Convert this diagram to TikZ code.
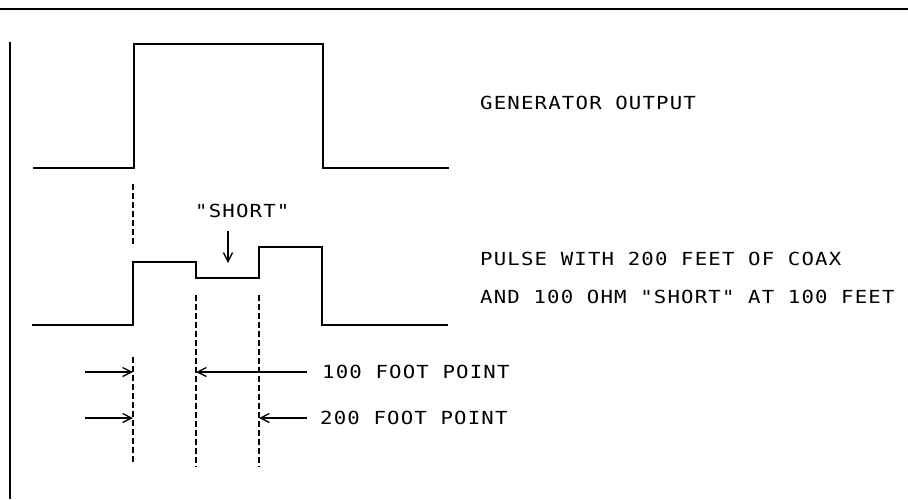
\documentclass[tikz,border=0pt]{standalone}
\usepackage{fontspec}
\newfontfamily\plotfont[FakeStretch=1.15,LetterSpace=6.5]{DejaVu Sans Mono}
\usetikzlibrary{arrows.meta}
\begin{document}
\begin{tikzpicture}[x=1pt,y=-1pt,
  wave/.style={line width=1.8pt, line join=miter},
  guide/.style={line width=1.1pt, dash pattern=on 6pt off 3pt},
  pointer/.style={line width=1.3pt, -{Straight Barb[length=9pt,width=9pt,line width=1.3pt]}},
  lbl/.style={font=\plotfont\fontsize{18}{20}\selectfont, inner sep=0pt, anchor=west}]
\useasboundingbox (0,0) rectangle (908,499);
% frame
\draw[line width=2.5pt] (0,9) -- (908,9);
\draw[line width=2pt] (10,42) -- (10,499);
% generator output
\draw[wave] (33,168) -- (134,168) -- (134,44) -- (323,44) -- (323,168) -- (449,168);
% pulse with coax
\draw[wave] (32,325) -- (133,325) -- (133,262) -- (196,262) -- (196,278) -- (259,278)
  -- (259,247) -- (322,247) -- (322,325) -- (448,325);
% guides
\draw[guide] (133,184) -- (133,247);
\draw[guide] (133,357) -- (133,462);
\draw[guide] (196,295) -- (196,467);
\draw[guide] (259,295) -- (259,467);
% labels
\node[lbl] (gen) at (480,103) {GENERATOR OUTPUT};
\node[lbl] (pulseA) at (480,259) {PULSE WITH 200 FEET OF COAX};
\node[lbl] (pulseB) at (480,297) {AND 100 OHM "SHORT" AT 100 FEET};
\node[lbl] (short) at (195,211) {"SHORT"};
\node[lbl] (p100) at (322,372) {100 FOOT POINT};
\node[lbl] (p200) at (320,418) {200 FOOT POINT};
% pointers
\coordinate (sA) at (228,231);
\coordinate (sB) at (228,263);
\draw[pointer] (sA) -- (sB);
\coordinate (l1a) at (85,372);
\coordinate (l1b) at (133,372);
\draw[pointer] (l1a) -- (l1b);
\coordinate (l2a) at (85,418);
\coordinate (l2b) at (133,418);
\draw[pointer] (l2a) -- (l2b);
\coordinate (r1a) at (307,372);
\coordinate (r1b) at (196,372);
\draw[pointer] (r1a) -- (r1b);
\coordinate (r2a) at (307,418);
\coordinate (r2b) at (259,418);
\draw[pointer] (r2a) -- (r2b);
\end{tikzpicture}
\end{document}
